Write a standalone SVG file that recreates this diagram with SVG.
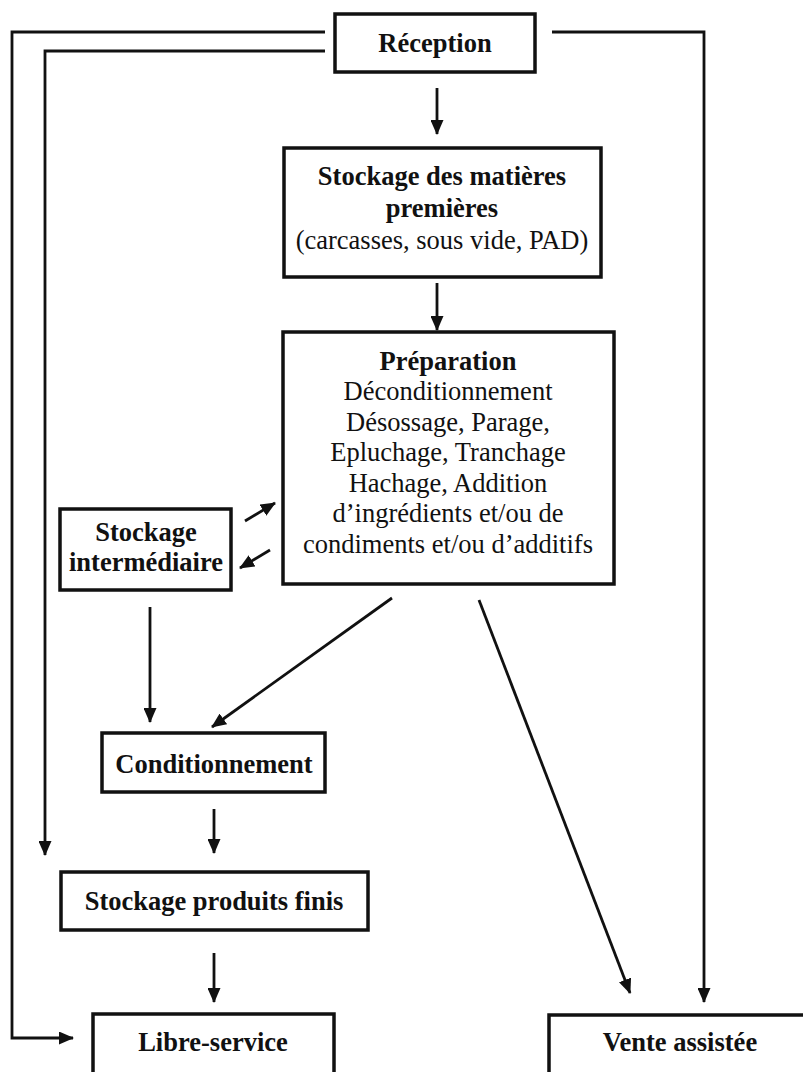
<svg xmlns="http://www.w3.org/2000/svg" width="803" height="1072" viewBox="0 0 803 1072">
<defs>
<style>
.box{fill:#fff;stroke:#111;stroke-width:3.5}
.t{font-family:"Liberation Serif","Times New Roman",serif;font-size:26.5px;fill:#111;text-anchor:middle}
.b{font-weight:bold}
.ln{fill:none;stroke:#111;stroke-width:2.8}
</style>
<marker id="ah" viewBox="0 0 15 13" refX="14" refY="6.5" markerWidth="15" markerHeight="13" markerUnits="userSpaceOnUse" orient="auto">
<path d="M0,0 L15,6.5 L0,13 z" fill="#111"/>
</marker>
</defs>
<rect width="803" height="1072" fill="#fff"/>
<g id="connectors">
<path class="ln" d="M325,32 H12 V1038 H73" marker-end="url(#ah)"/>
<path class="ln" d="M325,51 H45 V855" marker-end="url(#ah)"/>
<path class="ln" d="M552,32 H704 V1002" marker-end="url(#ah)"/>
<path class="ln" d="M437,88 V134" marker-end="url(#ah)"/>
<path class="ln" d="M437,283 V330" marker-end="url(#ah)"/>
<path class="ln" d="M245,521 L275,503" marker-end="url(#ah)"/>
<path class="ln" d="M270,550 L240,568" marker-end="url(#ah)"/>
<path class="ln" d="M150,607 V722" marker-end="url(#ah)"/>
<path class="ln" d="M392,598 L212,727" marker-end="url(#ah)"/>
<path class="ln" d="M479,600 L630,993" marker-end="url(#ah)"/>
<path class="ln" d="M214,809 V853" marker-end="url(#ah)"/>
<path class="ln" d="M214,953 V1002" marker-end="url(#ah)"/>
</g>
<g id="reception">
<rect class="box" x="335" y="14" width="200" height="58"/>
<text class="t b" x="435" y="52">Réception</text>
</g>
<g id="stockage-mp">
<rect class="box" x="284" y="148" width="317" height="129"/>
<text class="t b" x="442" y="185">Stockage des matières</text>
<text class="t b" x="442" y="217">premières</text>
<text class="t" x="442" y="249">(carcasses, sous vide, PAD)</text>
</g>
<g id="preparation">
<rect class="box" x="283" y="332" width="331" height="252"/>
<text class="t b" x="448" y="370">Préparation</text>
<text class="t" x="448" y="400">Déconditionnement</text>
<text class="t" x="448" y="431">Désossage, Parage,</text>
<text class="t" x="448" y="461">Epluchage, Tranchage</text>
<text class="t" x="448" y="492">Hachage, Addition</text>
<text class="t" x="448" y="522">d’ingrédients et/ou de</text>
<text class="t" x="448" y="553">condiments et/ou d’additifs</text>
</g>
<g id="stockage-inter">
<rect class="box" x="60" y="509" width="171" height="81"/>
<text class="t b" x="146" y="541">Stockage</text>
<text class="t b" x="146" y="571">intermédiaire</text>
</g>
<g id="conditionnement">
<rect class="box" x="102" y="733" width="223" height="59"/>
<text class="t b" x="214" y="773">Conditionnement</text>
</g>
<g id="stockage-pf">
<rect class="box" x="61" y="872" width="307" height="58"/>
<text class="t b" x="214" y="910">Stockage produits finis</text>
</g>
<g id="libre-service">
<rect class="box" x="93" y="1014" width="241" height="70"/>
<text class="t b" x="213" y="1051">Libre-service</text>
</g>
<g id="vente-assistee">
<rect class="box" x="549" y="1015" width="270" height="70"/>
<text class="t b" x="680" y="1051">Vente assistée</text>
</g>
</svg>
